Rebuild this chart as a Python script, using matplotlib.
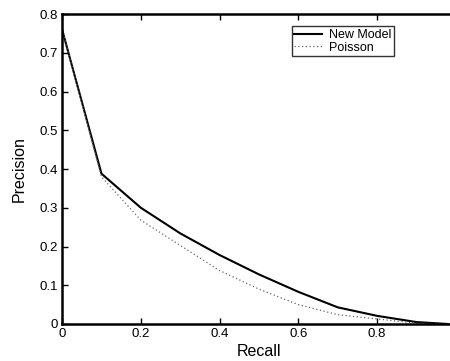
import matplotlib
matplotlib.use('Agg')
import matplotlib.pyplot as plt

plt.rcParams['font.family'] = ['Liberation Sans', 'DejaVu Sans']

recall = [0, 0.1, 0.2, 0.3, 0.4, 0.5, 0.6, 0.7, 0.8, 0.9, 0.98]
new_model = [0.76, 0.388, 0.300, 0.234, 0.178, 0.128, 0.083, 0.043, 0.021, 0.005, 0.0]
poisson = [0.76, 0.38, 0.268, 0.203, 0.138, 0.090, 0.050, 0.024, 0.013, 0.002, 0.0]

fig = plt.figure(figsize=(4.5, 3.61), dpi=100)
ax = fig.add_axes([0.138, 0.1025, 0.875, 0.8585])

ax.plot(recall, new_model, color='black', linewidth=1.5, label='New Model')
ax.plot(recall, poisson, color='#666666', linewidth=0.9, linestyle=(0, (1, 2)), label='Poisson')

ax.set_xlim(0, 1.0)
ax.set_ylim(0, 0.8)
ax.set_xticks([0, 0.2, 0.4, 0.6, 0.8])
ax.set_xticklabels(['0', '0.2', '0.4', '0.6', '0.8'])
ax.set_yticks([0, 0.1, 0.2, 0.3, 0.4, 0.5, 0.6, 0.7, 0.8])
ax.set_yticklabels(['0', '0.1', '0.2', '0.3', '0.4', '0.5', '0.6', '0.7', '0.8'])
ax.tick_params(direction='in', top=True, right=True, length=4, width=1, labelsize=9.5, pad=3)
for s in ax.spines.values():
    s.set_linewidth(1.8)

ax.set_xlabel('Recall', fontsize=11.5, labelpad=3)
ax.set_ylabel('Precision', fontsize=11.5, labelpad=9)

leg = ax.legend(loc='upper right', bbox_to_anchor=(0.843, 0.96), fontsize=9,
                frameon=True, fancybox=False, handlelength=2.2, borderpad=0.2,
                labelspacing=0.05, handletextpad=0.6, borderaxespad=0)
leg.get_frame().set_edgecolor('black')
leg.get_frame().set_linewidth(1.0)

fig.savefig('out.png', dpi=100)
